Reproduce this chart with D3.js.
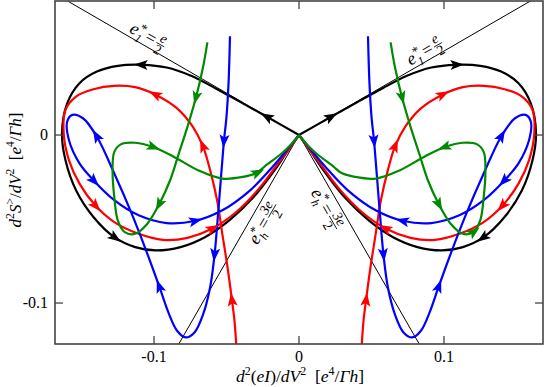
<!DOCTYPE html>
<html>
<head>
<meta charset="utf-8">
<script src="https://cdn.jsdelivr.net/npm/d3@7"></script>
<style>
  body { margin: 0; background: #fff; }
  text { font-family: "Liberation Serif", "Times New Roman", serif; white-space: pre; }
</style>
</head>
<body>
<script>
// tick values
const xTicks = [-0.1, 0, 0.1];
const yTicks = [-0.1, 0];
const xTickLabels = ["-0.1", "0", "0.1"];
const yTickLabels = ["-0.1", "0"];

// trajectories, right half (x > 0)
const blackR = [[0,0],[0.0216,0.0106],[0.0409,0.0199],[0.0577,0.0279],[0.0745,0.0353],[0.0913,0.0402],[0.1082,0.0418],[0.125,0.0412],[0.1394,0.0378],[0.1514,0.0309],[0.1599,0.0189],[0.1635,0.001],[0.1611,-0.0149],[0.1538,-0.0329],[0.1418,-0.0488],[0.1274,-0.0608],[0.113,-0.0667],[0.0986,-0.0687],[0.0817,-0.0667],[0.0649,-0.0608],[0.0481,-0.0508],[0.0313,-0.0369],[0.0168,-0.0209],[0.006,-0.007],[0,0]];
const redR = [[0.0433,-0.1245],[0.0445,-0.1106],[0.0462,-0.0986],[0.0493,-0.0787],[0.0529,-0.0588],[0.0565,-0.0388],[0.0613,-0.0209],[0.0661,-0.007],[0.0733,0.005],[0.0841,0.0159],[0.0986,0.0239],[0.113,0.0285],[0.1274,0.0293],[0.1418,0.0273],[0.1538,0.0229],[0.1611,0.0149],[0.1623,0.001],[0.1587,-0.0149],[0.1514,-0.0289],[0.1406,-0.0418],[0.1274,-0.0518],[0.1106,-0.0588],[0.0938,-0.0624],[0.0769,-0.0612],[0.0601,-0.0558],[0.0433,-0.0458],[0.0276,-0.0319],[0.0144,-0.0169],[0.0048,-0.006],[0,0]];
const blueR = [[0.0476,0.0588],[0.0486,0.0309],[0.05,0.011],[0.0517,-0.003],[0.0536,-0.0229],[0.0558,-0.0468],[0.0582,-0.0707],[0.0613,-0.0906],[0.0661,-0.1066],[0.0721,-0.1175],[0.0781,-0.1205],[0.0841,-0.1165],[0.0901,-0.1056],[0.0962,-0.0906],[0.1046,-0.0707],[0.1154,-0.0468],[0.1274,-0.0229],[0.1394,-0.001],[0.149,0.01],[0.1563,0.012],[0.1599,0.008],[0.1587,-0.003],[0.1514,-0.0169],[0.1418,-0.0269],[0.1274,-0.0388],[0.1106,-0.0478],[0.0913,-0.0524],[0.0721,-0.0512],[0.0529,-0.0448],[0.0337,-0.0329],[0.0192,-0.0199],[0.0084,-0.009],[0,0]];
const greenR = [[0.0632,0.0552],[0.0661,0.0408],[0.0709,0.0229],[0.0769,0.005],[0.0829,-0.011],[0.0889,-0.0269],[0.0962,-0.0408],[0.1046,-0.0528],[0.113,-0.0588],[0.1202,-0.0578],[0.125,-0.0508],[0.1274,-0.0369],[0.1286,-0.0209],[0.1274,-0.01],[0.1226,-0.0054],[0.113,-0.0046],[0.101,-0.007],[0.0865,-0.0129],[0.0697,-0.0209],[0.0529,-0.0259],[0.0385,-0.0249],[0.029,-0.0225],[0.024,-0.0189],[0.012,-0.011],[0.0048,-0.005],[0,0]];

// trajectories, left half (x < 0)
const blackL = [[0,0],[-0.0216,0.0106],[-0.0409,0.0199],[-0.0577,0.0279],[-0.0745,0.0353],[-0.0913,0.0402],[-0.1082,0.0418],[-0.125,0.0412],[-0.1394,0.0378],[-0.1514,0.0309],[-0.1599,0.0189],[-0.1635,0.001],[-0.1611,-0.0149],[-0.1538,-0.0329],[-0.1418,-0.0488],[-0.1274,-0.0608],[-0.113,-0.0667],[-0.0986,-0.0687],[-0.0817,-0.0667],[-0.0649,-0.0608],[-0.0481,-0.0508],[-0.0313,-0.0369],[-0.0168,-0.0209],[-0.006,-0.007],[0,0]];
const redL = [[-0.0433,-0.1245],[-0.0445,-0.1106],[-0.0462,-0.0986],[-0.0493,-0.0787],[-0.0529,-0.0588],[-0.0565,-0.0388],[-0.0613,-0.0209],[-0.0661,-0.007],[-0.0733,0.005],[-0.0841,0.0159],[-0.0986,0.0239],[-0.113,0.0285],[-0.1274,0.0293],[-0.1418,0.0273],[-0.1538,0.0229],[-0.1611,0.0149],[-0.1623,0.001],[-0.1587,-0.0149],[-0.1514,-0.0289],[-0.1406,-0.0418],[-0.1274,-0.0518],[-0.1106,-0.0588],[-0.0938,-0.0624],[-0.0769,-0.0612],[-0.0601,-0.0558],[-0.0433,-0.0458],[-0.0276,-0.0319],[-0.0144,-0.0169],[-0.0048,-0.006],[0,0]];
const blueL = [[-0.0476,0.0588],[-0.0486,0.0309],[-0.05,0.011],[-0.0517,-0.003],[-0.0536,-0.0229],[-0.0558,-0.0468],[-0.0582,-0.0707],[-0.0613,-0.0906],[-0.0661,-0.1066],[-0.0721,-0.1175],[-0.0781,-0.1205],[-0.0841,-0.1165],[-0.0901,-0.1056],[-0.0962,-0.0906],[-0.1046,-0.0707],[-0.1154,-0.0468],[-0.1274,-0.0229],[-0.1394,-0.001],[-0.149,0.01],[-0.1563,0.012],[-0.1599,0.008],[-0.1587,-0.003],[-0.1514,-0.0169],[-0.1418,-0.0269],[-0.1274,-0.0388],[-0.1106,-0.0478],[-0.0913,-0.0524],[-0.0721,-0.0512],[-0.0529,-0.0448],[-0.0337,-0.0329],[-0.0192,-0.0199],[-0.0084,-0.009],[0,0]];
const greenL = [[-0.0632,0.0552],[-0.0661,0.0408],[-0.0709,0.0229],[-0.0769,0.005],[-0.0829,-0.011],[-0.0889,-0.0269],[-0.0962,-0.0408],[-0.1046,-0.0528],[-0.113,-0.0588],[-0.1202,-0.0578],[-0.125,-0.0508],[-0.1274,-0.0369],[-0.1286,-0.0209],[-0.1274,-0.01],[-0.1226,-0.0054],[-0.113,-0.0046],[-0.101,-0.007],[-0.0865,-0.0129],[-0.0697,-0.0209],[-0.0529,-0.0259],[-0.0385,-0.0249],[-0.029,-0.0225],[-0.024,-0.0189],[-0.012,-0.011],[-0.0048,-0.005],[0,0]];

// vertex indices where an arrowhead sits
const blackArrows = [1, 6, 15];
const redArrows = [2, 7, 10, 19, 24];
const blueArrows = [3, 6, 13, 17, 23, 27];
const greenArrowsR = [2, 6, 9, 16];
const greenArrowsL = [2, 6, 16, 21];

// guide lines e1* = e/2 (slope 1/2) and eh* = 3e/2 (slope 3/2)
const guideLines = [
    [[0,0],[0.2,0.1]], [[0,0],[-0.2,0.1]],
    [[0,0],[0.1,-0.15]], [[0,0],[-0.1,-0.15]]
];

const curves = [
    {pts: blackR, arrows: blackArrows, color: "#000"},
    {pts: blackL, arrows: blackArrows, color: "#000"},
    {pts: redR, arrows: redArrows, color: "#ff0000"},
    {pts: redL, arrows: redArrows, color: "#ff0000"},
    {pts: blueR, arrows: blueArrows, color: "#0000ff"},
    {pts: blueL, arrows: blueArrows, color: "#0000ff"},
    {pts: greenR, arrows: greenArrowsR, color: "#008a00"},
    {pts: greenL, arrows: greenArrowsL, color: "#008a00"}
];

const W = 545, H = 387;
const margin = {top: 1, right: 2, bottom: 43, left: 55};
const width = W - margin.left - margin.right;
const height = H - margin.top - margin.bottom;

const svg = d3.select("body").append("svg")
    .attr("width", W)
    .attr("height", H);

const x = d3.scaleLinear().domain([-0.1683, 0.1683]).range([margin.left, margin.left + width]);
const y = d3.scaleLinear().domain([-0.1244, 0.0798]).range([margin.top + height, margin.top]);

svg.append("defs").append("clipPath")
    .attr("id", "clip")
    .append("rect")
    .attr("x", margin.left).attr("y", margin.top)
    .attr("width", width).attr("height", height);

const plot = svg.append("g").attr("clip-path", "url(#clip)");

// guide lines
plot.selectAll(".guide")
    .data(guideLines)
    .enter().append("line")
    .attr("class", "guide")
    .attr("x1", d => x(d[0][0])).attr("y1", d => y(d[0][1]))
    .attr("x2", d => x(d[1][0])).attr("y2", d => y(d[1][1]))
    .attr("stroke", "#000")
    .attr("stroke-width", 1);

const line = d3.line()
    .x(d => x(d[0]))
    .y(d => y(d[1]))
    .curve(d3.curveCatmullRom.alpha(0.5));

plot.selectAll(".traj")
    .data(curves)
    .enter().append("path")
    .attr("class", "traj")
    .attr("d", d => line(d.pts))
    .attr("fill", "none")
    .attr("stroke", d => d.color)
    .attr("stroke-width", 2.2);

// arrowheads
const head = "M8,0 L-5.5,-5 L-2.5,0 L-5.5,5 Z";
curves.forEach(c => {
    c.arrows.forEach(i => {
        let p = c.pts[i], a = c.pts[i - 1], b = c.pts[i + 1];
        let ang = Math.atan2(y(b[1]) - y(a[1]), x(b[0]) - x(a[0])) * 180 / Math.PI;
        plot.append("path")
            .attr("d", head)
            .attr("fill", c.color)
            .attr("transform", `translate(${x(p[0])},${y(p[1])}) rotate(${ang})`);
    });
});

// frame
svg.append("rect")
    .attr("x", margin.left).attr("y", margin.top)
    .attr("width", width).attr("height", height)
    .attr("fill", "none")
    .attr("stroke", "#444")
    .attr("stroke-width", 1.6);

// ticks, inward on all four sides
const tl = 8;
xTicks.forEach(t => {
    svg.append("line").attr("x1", x(t)).attr("x2", x(t))
        .attr("y1", margin.top + height).attr("y2", margin.top + height - tl)
        .attr("stroke", "#444").attr("stroke-width", 1.3);
    svg.append("line").attr("x1", x(t)).attr("x2", x(t))
        .attr("y1", margin.top).attr("y2", margin.top + tl)
        .attr("stroke", "#444").attr("stroke-width", 1.3);
});
yTicks.forEach(t => {
    svg.append("line").attr("y1", y(t)).attr("y2", y(t))
        .attr("x1", margin.left).attr("x2", margin.left + tl)
        .attr("stroke", "#444").attr("stroke-width", 1.3);
    svg.append("line").attr("y1", y(t)).attr("y2", y(t))
        .attr("x1", margin.left + width).attr("x2", margin.left + width - tl)
        .attr("stroke", "#444").attr("stroke-width", 1.3);
});

svg.selectAll(".xtl")
    .data(xTicks)
    .enter().append("text")
    .attr("x", d => x(d))
    .attr("y", 362)
    .attr("text-anchor", "middle")
    .style("font-size", "16px")
    .text((d, i) => xTickLabels[i]);

svg.selectAll(".ytl")
    .data(yTicks)
    .enter().append("text")
    .attr("x", 48)
    .attr("y", d => y(d) + 5)
    .attr("text-anchor", "end")
    .style("font-size", "16px")
    .text((d, i) => yTickLabels[i]);

// rich text helper: parts with italic / sup / sub
function rich(text, parts, size) {
    let shift = 0;
    parts.forEach(p => {
        let target = p.sup ? -0.42 * size : p.sub ? 0.3 * size : 0;
        text.append("tspan")
            .attr("dy", target - shift)
            .style("font-size", ((p.sup || p.sub) ? size * 0.68 : size) + "px")
            .style("font-style", p.it ? "italic" : "normal")
            .text(p.t);
        shift = target;
    });
}

// axis titles
const xTitle = svg.append("text")
    .attr("x", 300).attr("y", 382)
    .attr("text-anchor", "middle")
    .style("font-size", "17.5px");
rich(xTitle, [
    {t: "d", it: true}, {t: "2", sup: true}, {t: "("}, {t: "eI", it: true}, {t: ")/"},
    {t: "dV", it: true}, {t: "2", sup: true}, {t: "  ["}, {t: "e", it: true}, {t: "4", sup: true},
    {t: "/"}, {t: "Γh", it: true}, {t: "]"}
], 17.5);

const yTitle = svg.append("text")
    .attr("transform", "translate(21,170) rotate(-90)")
    .attr("text-anchor", "middle")
    .style("font-size", "17px");
rich(yTitle, [
    {t: "d", it: true}, {t: "2", sup: true}, {t: "S", it: true}, {t: ">", sup: true}, {t: "/"},
    {t: "dV", it: true}, {t: "2", sup: true}, {t: "  ["}, {t: "e", it: true}, {t: "4", sup: true},
    {t: "/"}, {t: "Γh", it: true}, {t: "]"}
], 17);

// labels along guide lines: e*_sub = num/den
function lineLabel(cx, cy, angle, baseY, sub, num, den) {
    const g = svg.append("g").attr("transform", `translate(${cx},${cy}) rotate(${angle})`);
    const e = g.append("text").attr("x", 0).attr("y", baseY)
        .style("font-size", "18px").style("font-style", "italic").text("e");
    let px = e.node().getComputedTextLength() + 0.5;
    g.append("text").attr("x", px).attr("y", baseY - 6)
        .style("font-size", "13px").text("*");
    const s = g.append("text").attr("x", px).attr("y", baseY + 5)
        .style("font-size", "12px").style("font-style", "italic").text(sub);
    px += Math.max(7, s.node().getComputedTextLength()) + 2;
    const eq = g.append("text").attr("x", px).attr("y", baseY)
        .style("font-size", "18px").text("=");
    px += eq.node().getComputedTextLength() + 2;
    const n = g.append("text").attr("y", baseY - 7)
        .attr("text-anchor", "middle")
        .style("font-size", "14px").style("font-style", "italic").text(num);
    const fw = Math.max(n.node().getComputedTextLength(), 7);
    const fx = px + fw / 2 + 1;
    n.attr("x", fx);
    g.append("line").attr("x1", fx - fw / 2 - 1).attr("x2", fx + fw / 2 + 1)
        .attr("y1", baseY - 4.5).attr("y2", baseY - 4.5)
        .attr("stroke", "#000").attr("stroke-width", 0.8);
    g.append("text").attr("x", fx).attr("y", baseY + 6)
        .attr("text-anchor", "middle").style("font-size", "14px").text(den);
}

lineLabel(126, 36, 29.7, -5, "1", "e", "2");
lineLabel(413, 70, -29.7, -5, "1", "e", "2");
lineLabel(241, 236, -60, 19, "h", "3e", "2");
lineLabel(327, 183, 60, 19, "h", "3e", "2");
</script>
</body>
</html>
